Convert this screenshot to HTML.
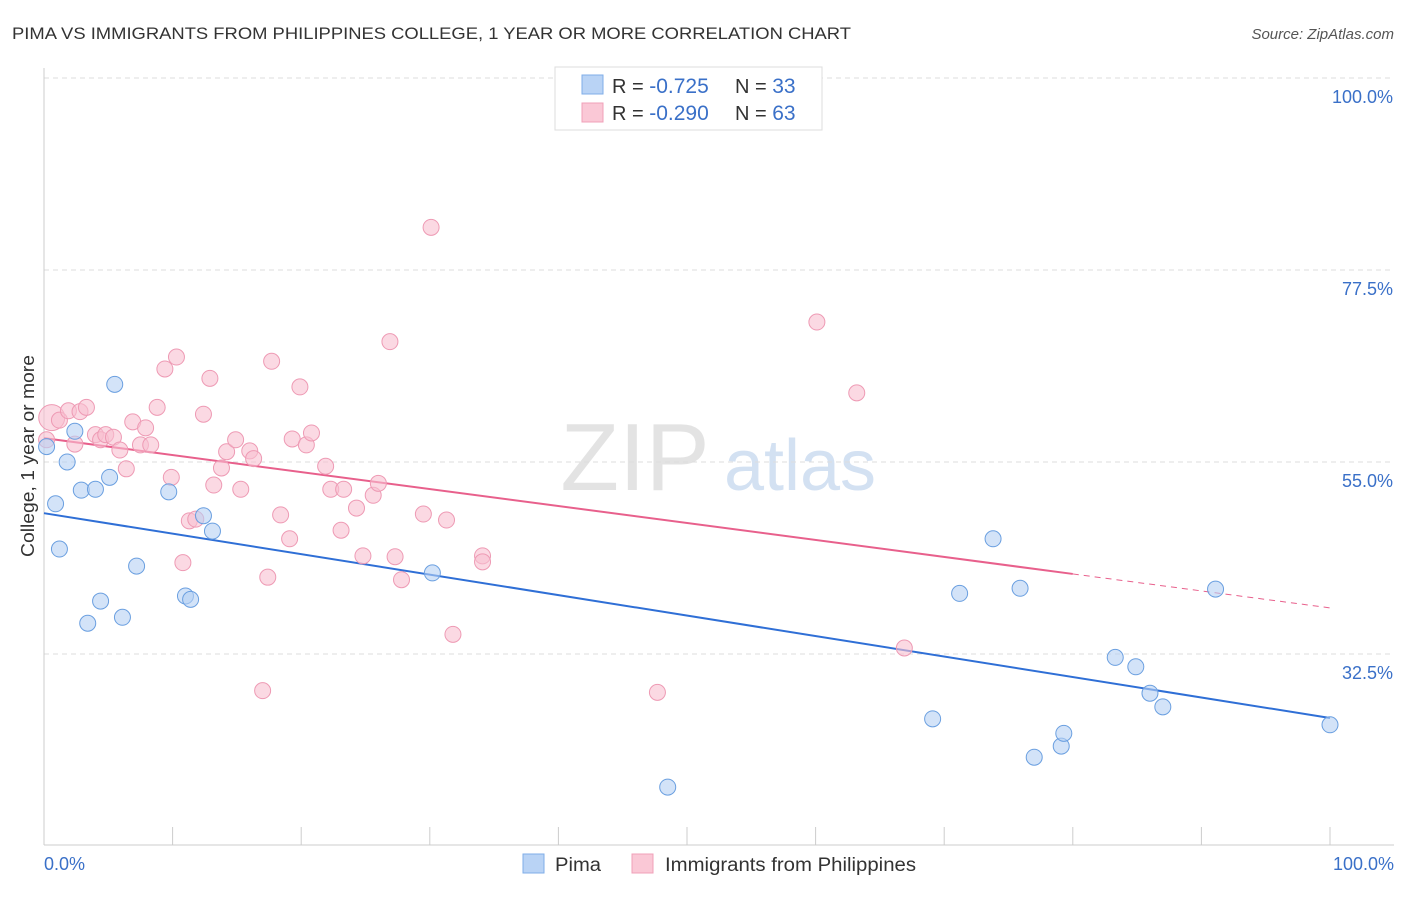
<!DOCTYPE html>
<html><head><meta charset="utf-8"><style>
body{margin:0;background:#fff;font-family:"Liberation Sans",sans-serif;}
svg text{font-family:"Liberation Sans",sans-serif;}
</style></head><body>
<svg id="chart" width="1406" height="892" xmlns="http://www.w3.org/2000/svg">
<text x="12" y="39" font-size="17" fill="#333" textLength="839" lengthAdjust="spacingAndGlyphs">PIMA VS IMMIGRANTS FROM PHILIPPINES COLLEGE, 1 YEAR OR MORE CORRELATION CHART</text>
<text x="1394" y="39" font-size="15" fill="#555" font-style="italic" text-anchor="end">Source: ZipAtlas.com</text>
<g>
<text x="635" y="490" font-size="96" fill="#ddd" font-family="Liberation Serif" text-anchor="middle" opacity="0.8">ZIP</text>
<text x="800" y="490" font-size="72" fill="#c9daf0" text-anchor="middle" opacity="0.8">atlas</text>
</g>
<g id="grid"></g><g id="axes"></g><g id="trends"></g><g id="points"></g>
<text x="34" y="456" font-size="18" fill="#333" transform="rotate(-90 34 456)" text-anchor="middle" textLength="202" lengthAdjust="spacingAndGlyphs">College, 1 year or more</text>
<g>
<rect x="555" y="67" width="267" height="63" fill="#fff" stroke="#ddd"/>
<rect x="582" y="75" width="21" height="19" fill="#b9d3f5" stroke="#7faee8"/>
<rect x="582" y="103" width="21" height="19" fill="#fac8d6" stroke="#f0a0b8"/>
<text x="612" y="93" font-size="20" fill="#333">R = <tspan fill="#3a70c8" font-size="21"> -0.725</tspan></text>
<text x="735" y="93" font-size="20" fill="#333">N = <tspan fill="#3a70c8" font-size="21">33</tspan></text>
<text x="612" y="120" font-size="20" fill="#333">R = <tspan fill="#3a70c8" font-size="21">-0.290</tspan></text>
<text x="735" y="120" font-size="20" fill="#333">N = <tspan fill="#3a70c8" font-size="21">63</tspan></text>
</g>
<g>
<rect x="523" y="854" width="21" height="19" fill="#b9d3f5" stroke="#7faee8"/>
<text x="555" y="871" font-size="19" fill="#333" textLength="46" lengthAdjust="spacingAndGlyphs">Pima</text>
<rect x="632" y="854" width="21" height="19" fill="#fac8d6" stroke="#f0a0b8"/>
<text x="665" y="871" font-size="19" fill="#333" textLength="251" lengthAdjust="spacingAndGlyphs">Immigrants from Philippines</text>
</g>
</svg>
<script>
const yTicks=[100,77.5,55,32.5];
const yTickLabels=["100.0%","77.5%","55.0%","32.5%"];
const xTickLabels=["0.0%","100.0%"];
const blueX=[0.2,0.9,1.2,1.8,2.4,2.9,4.0,3.4,4.4,5.1,5.5,6.1,7.2,9.7,11.0,11.4,12.4,13.1,30.2,48.5,69.1,71.2,73.8,75.9,77.0,79.1,79.3,83.3,84.9,86.0,87.0,91.1,100];
const blueY=[56.8,50.1,44.8,55.0,58.6,51.7,51.8,36.1,38.7,53.2,64.1,36.8,42.8,51.5,39.3,38.9,48.7,46.9,42.0,16.9,24.9,39.6,46.0,40.2,20.4,21.7,23.2,32.1,31.0,27.9,26.3,40.1,24.2];
const pinkX=[0.6,0.2,1.2,1.9,2.4,2.8,3.3,4.0,4.4,4.8,5.4,5.9,6.4,6.9,7.5,7.9,8.3,8.8,9.4,9.9,10.3,10.8,11.3,11.8,12.4,12.9,13.2,14.2,13.8,14.9,15.3,16.0,16.3,17.0,17.4,17.7,18.4,19.1,19.3,19.9,20.4,20.8,21.9,22.3,23.1,23.3,24.3,24.8,25.6,26.0,26.9,27.3,27.8,29.5,30.1,31.3,31.8,34.1,34.1,47.7,60.1,63.2,66.9];
const pinkY=[60.2,57.6,59.9,61.0,57.1,60.9,61.4,58.2,57.6,58.2,57.9,56.4,54.2,59.7,57.0,59.0,57.0,61.4,65.9,53.2,67.3,43.2,48.1,48.3,60.6,64.8,52.3,56.2,54.3,57.6,51.8,56.3,55.4,28.2,41.5,66.8,48.8,46.0,57.7,63.8,57.0,58.4,54.5,51.8,47.0,51.8,49.6,44.0,51.1,52.5,69.1,43.9,41.2,48.9,82.5,48.2,34.8,44.0,43.3,28.0,71.4,63.1,33.2];
const blueTrend=[49.0,25.0];
const pinkTrend=[57.8,37.9];
const pinkSolidEnd=80;
const NS="http://www.w3.org/2000/svg";
const X0=44,X1=1330,YTOP=78,PXPER=8.533;
const xs=v=>X0+(X1-X0)*v/100;
const ys=v=>YTOP+(100-v)*PXPER;
function mk(tag,attrs,parent){const e=document.createElementNS(NS,tag);for(const k in attrs)e.setAttribute(k,attrs[k]);document.getElementById(parent).appendChild(e);return e;}
yTicks.forEach((t,i)=>{
 const l=mk('line',{x1:X0,x2:1394,y1:ys(t),y2:ys(t),stroke:'#ddd','stroke-dasharray':'5,4'},'grid');
 
 
 const tx=mk('text',{x:1393,y:ys(t)+25,'font-size':18,fill:'#3a70c8','text-anchor':'end'},'axes');
 tx.textContent=yTickLabels[i];
 
 
});
const ya=mk('line',{x1:X0,x2:X0,y1:68,y2:845,stroke:'#ccc'},'axes');


const xa=mk('line',{x1:X0,x2:1394,y1:845,y2:845,stroke:'#ccc'},'axes');


for(let i=0;i<=10;i++){
 const t=mk('line',{x1:xs(i*10),x2:xs(i*10),y1:827,y2:845,stroke:'#ccc'},'axes');
 
 
}
[[0,'start',44],[100,'end',1394]].forEach((d,i)=>{
 const tx=mk('text',{x:d[2],y:870,'font-size':18,fill:'#3a70c8','text-anchor':d[1]},'axes');
 tx.textContent=xTickLabels[i];
 
 
});
function pt(x,y,fill,stroke,name,r){
 const c=mk('circle',{cx:xs(x),cy:ys(y),r:r,fill:fill,stroke:stroke,'stroke-width':1,'fill-opacity':0.6},'points');
 
 
}
pinkX.forEach((x,i)=>pt(x,pinkY[i],'#f9bfd0','#ee9ab4','philippines-point',i===0?13:8));
blueX.forEach((x,i)=>pt(x,blueY[i],'#b5d0f3','#6a9fe0','pima-point',8));
const lerp=(t,x)=>t[0]+(t[1]-t[0])*x/100;
const bl=mk('line',{x1:xs(0),y1:ys(lerp(blueTrend,0)),x2:xs(100),y2:ys(lerp(blueTrend,100)),stroke:'#2f6fd6','stroke-width':2},'trends');


const pl=mk('line',{x1:xs(0),y1:ys(lerp(pinkTrend,0)),x2:xs(pinkSolidEnd),y2:ys(lerp(pinkTrend,pinkSolidEnd)),stroke:'#e8608c','stroke-width':2},'trends');


const pd=mk('line',{x1:xs(pinkSolidEnd),y1:ys(lerp(pinkTrend,pinkSolidEnd)),x2:xs(100),y2:ys(lerp(pinkTrend,100)),stroke:'#e8608c','stroke-width':1,'stroke-dasharray':'6,5'},'trends');


</script>
</body></html>
